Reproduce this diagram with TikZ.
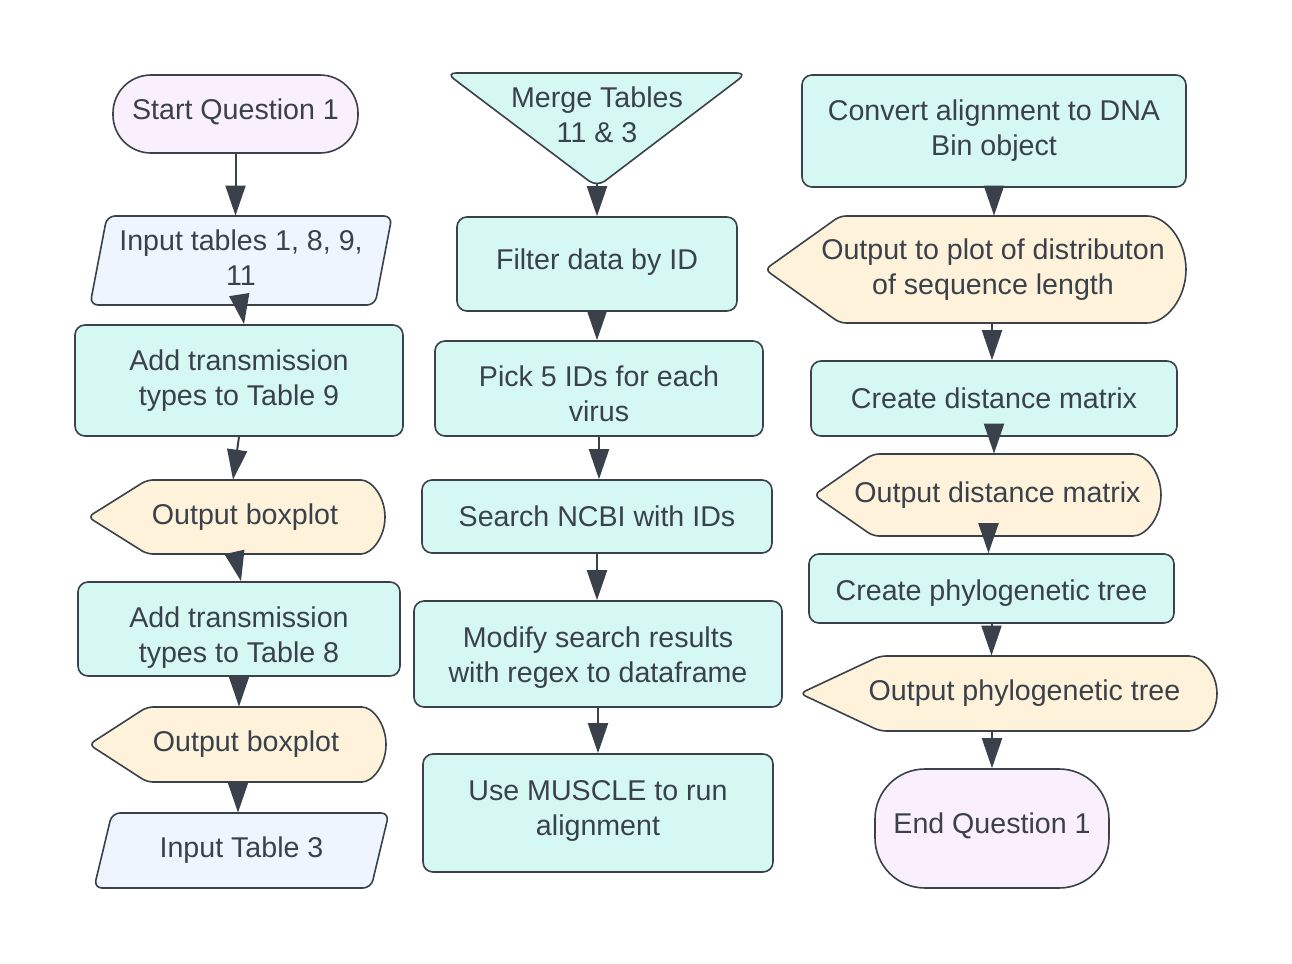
\documentclass[tikz,border=0pt]{standalone}
\usepackage{fontspec}
\setmainfont{Liberation Sans}
\usetikzlibrary{arrows.meta,calc}
\definecolor{linec}{HTML}{3A414A}
\definecolor{textc}{HTML}{3A414A}
\definecolor{mint}{HTML}{D6F8F2}
\definecolor{pinkf}{HTML}{FAEFFC}
\definecolor{bluef}{HTML}{EEF5FE}
\definecolor{creamf}{HTML}{FFF2DB}
\tikzset{
  shapeline/.style={draw=linec, line width=0.8pt},
  box/.style={shapeline, fill=mint, rounded corners=5pt, align=center, text=textc, inner sep=0pt},
  termbox/.style={shapeline, fill=pinkf, align=center, text=textc, inner sep=0pt},
  txt/.style={align=center, text=textc, inner sep=0pt},
  arr/.style={-{Triangle[width=10pt,length=15pt]}, line width=1pt, draw=linec},
}
% display shape: L T R B pointwidth rightradius
\newcommand{\dispshape}[6]{%
  \filldraw[shapeline, fill=creamf, rounded corners=3pt]
    (#1,{(#2+#4)/2}) -- ({#1+#5},#2) -- ({#3-#6},#2)
    arc[start angle=-90, end angle=90, x radius=#6, y radius={(#4-#2)/2}]
    -- ({#1+#5},#4) -- cycle;}
% parallelogram: L T R B skew
\newcommand{\parashape}[5]{%
  \filldraw[shapeline, fill=bluef, rounded corners=4pt]
    ({#1+#5},#2) -- (#3,#2) -- ({#3-#5},#4) -- (#1,#4) -- cycle;}
\begin{document}
\begin{tikzpicture}[x=0.5pt, y=-0.5pt, font=\fontsize{14.3}{17.5}\selectfont]
\useasboundingbox (0,0) rectangle (1292,964);
\fill[white] (0,0) rectangle (1292,964);

% ---------- column 1 ----------
\node[termbox, rounded corners=19pt, minimum width=122.5pt, minimum height=39pt,
  label={[txt, yshift=1pt]center:Start Question 1}] (start) at (235.5,114) {};

\parashape{90}{216}{392}{305}{17}
\node[txt, minimum width=140pt, minimum height=44.5pt,
  label={[txt, yshift=1.5pt]center:Input tables 1, 8, 9,\\11}] (input1) at (241,260.5) {};

\node[box, minimum width=164pt, minimum height=55.5pt] (add9) at (239,380.5) {Add transmission\\types to Table 9};

\dispshape{88}{480}{385}{554}{59}{30}
\node[txt, minimum height=37pt] (out1) at (245,517) {Output boxplot};

\node[box, minimum width=161pt, minimum height=47pt,
  label={[txt, yshift=-4.5pt]center:Add transmission\\types to Table 8}] (add8) at (239,629) {};

\dispshape{89}{707}{386}{782}{58}{30}
\node[txt, minimum height=37.5pt] (out2) at (246,744.5) {Output boxplot};

\parashape{94}{813}{389}{888}{18}
\node[txt, minimum width=140pt, minimum height=37.5pt] (input3) at (241.5,850.5) {Input Table 3};

% ---------- column 2 ----------
\filldraw[shapeline, fill=mint, rounded corners=5pt] (446,73) -- (747,73) -- (597,187) -- cycle;
\node[txt] (merge) at (597,115) {Merge Tables\\11 \& 3};
\coordinate (mergetip) at (597,183);

\node[box, minimum width=140pt, minimum height=47pt,
  label={[txt, yshift=1pt]center:Filter data by ID}] (filter) at (597,264) {};
\node[box, minimum width=164pt, minimum height=47.5pt,
  label={[txt, yshift=-2.5pt]center:Pick 5 IDs for each\\virus}] (pick) at (599,388.5) {};
\node[box, minimum width=175pt, minimum height=36.5pt] (search) at (597,516.5) {Search NCBI with IDs};
\node[box, minimum width=184pt, minimum height=53pt,
  label={[txt, yshift=-2pt]center:Modify search results\\with regex to dataframe}] (modify) at (598,654) {};
\node[box, minimum width=175pt, minimum height=59pt,
  label={[txt, yshift=1pt]center:Use MUSCLE to run\\alignment}] (muscle) at (598,813) {};

% ---------- column 3 ----------
\node[box, minimum width=192pt, minimum height=56pt] (convert) at (994,131) {Convert alignment to DNA\\Bin object};

\dispshape{765}{216}{1186}{323}{75}{45}
\node[txt, minimum height=53.5pt] (out3) at (993,269.5) {Output to plot of distributon\\of sequence length};

\node[box, minimum width=183pt, minimum height=37.5pt] (createdist) at (994,398.5) {Create distance matrix};

\dispshape{814}{454}{1161}{536}{59}{34}
\node[txt, minimum height=41pt] (out4) at (997.5,495) {Output distance matrix};

\node[box, minimum width=182.5pt, minimum height=34.5pt,
  label={[txt, yshift=-2.5pt]center:Create phylogenetic tree}] (createphylo) at (991.5,588.5) {};

\dispshape{800}{656}{1217}{731}{80}{34}
\node[txt, minimum height=37.5pt] (out5) at (1024.5,693.5) {Output phylogenetic tree};

\node[termbox, rounded corners=25pt, minimum width=117pt, minimum height=59.5pt,
  label={[txt, yshift=1.5pt]center:End Question 1}] (end) at (992,828.5) {};

% ---------- connectors ----------
\draw[arr] (start.south) -- (start.south |- input1.north);
\draw[arr] (input1.south) -- ([xshift=2.5pt]add9.north);
\draw[arr] (add9.south) -- ([xshift=-6pt]out1.north);
\draw[arr] ([xshift=-5pt]out1.south) -- ([xshift=1pt]add8.north);
\draw[arr] (add8.south) -- (add8.south |- out2.north);
\draw[arr] ([xshift=-4pt]out2.south) -- ([xshift=-4pt]out2.south |- input3.north);

\draw[arr] (mergetip) -- (mergetip |- filter.north);
\draw[arr] (filter.south) -- (filter.south |- pick.north);
\draw[arr] (pick.south) -- (pick.south |- search.north);
\draw[arr] (search.south) -- (search.south |- modify.north);
\draw[arr] (modify.south) -- (modify.south |- muscle.north);

\draw[arr] (convert.south) -- (convert.south |- out3.north);
\draw[arr] ([xshift=-0.5pt]out3.south) -- ([xshift=-0.5pt]out3.south |- createdist.north);
\draw[arr] (createdist.south) -- (createdist.south |- out4.north);
\draw[arr] ([xshift=-4.5pt]out4.south) -- ([xshift=-4.5pt]out4.south |- createphylo.north);
\draw[arr] (createphylo.south) -- (createphylo.south |- out5.north);
\draw[arr] (end.north |- out5.south) -- (end.north);
\end{tikzpicture}
\end{document}
